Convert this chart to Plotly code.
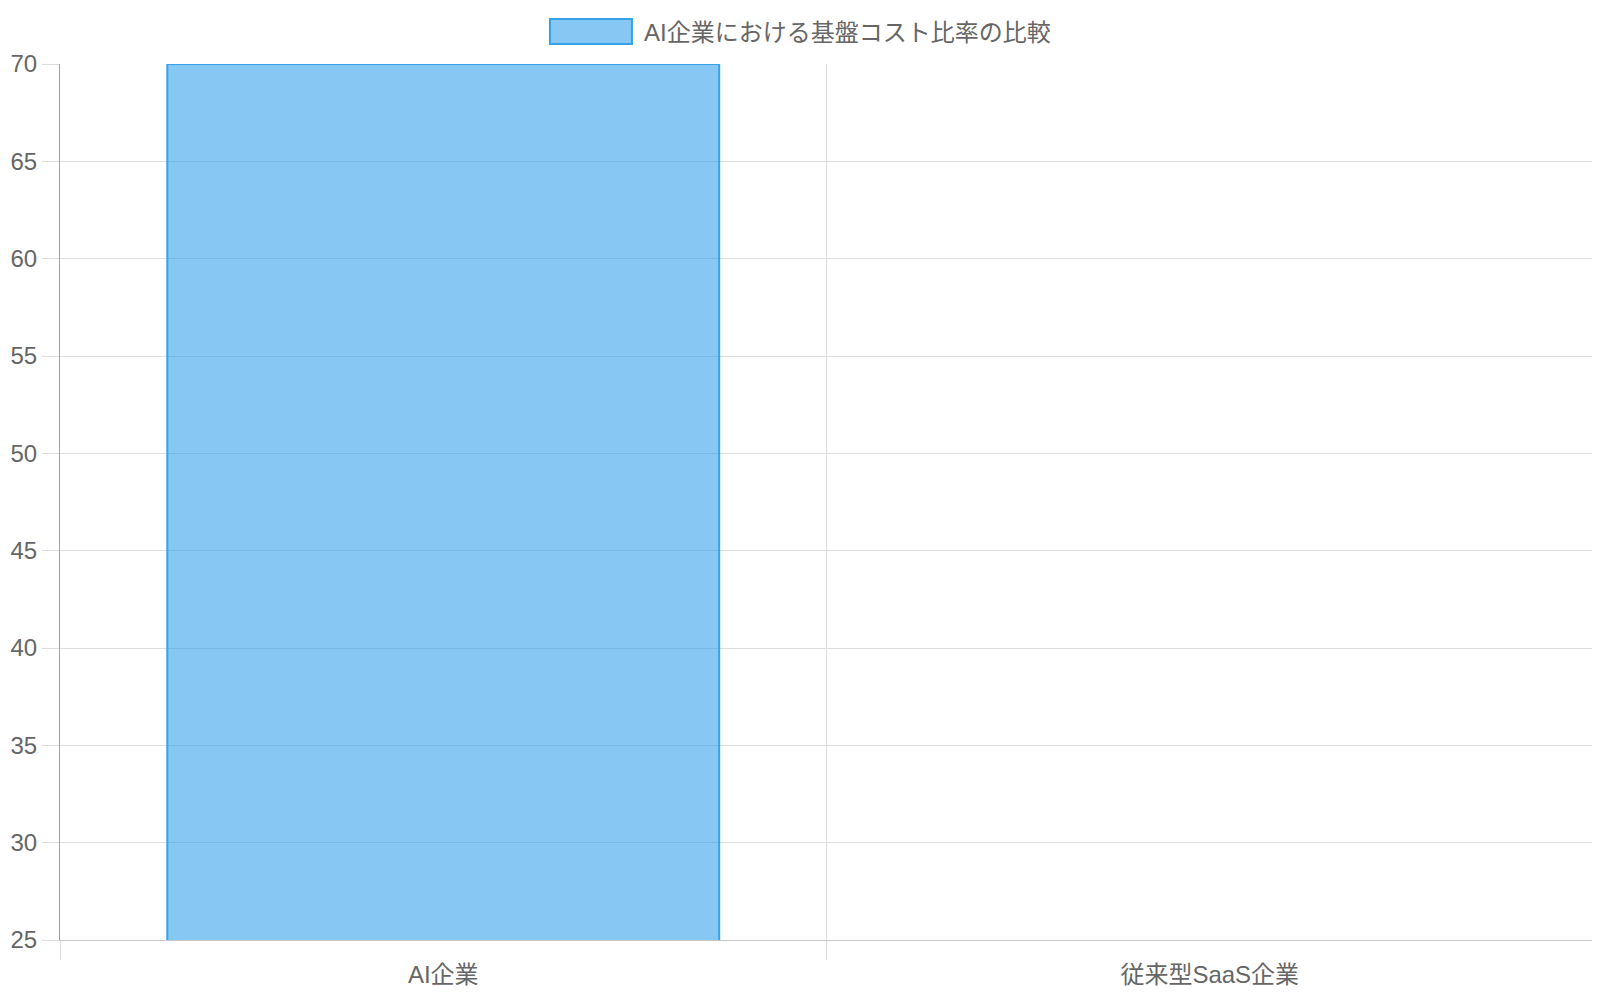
import plotly.graph_objects as go

# data
categories = ["AI企業", "従来型SaaS企業"]
cost_ratio = [70, 25]
series_name = "AI企業における基盤コスト比率の比較"
y_ticks = [25, 30, 35, 40, 45, 50, 55, 60, 65, 70]

font = "Liberation Sans, Arial, Noto Sans CJK JP, sans-serif"
grey = "#666666"
fill = "rgba(54,162,235,0.6)"
edge = "rgb(54,162,235)"
grid = "#dddddd"

fig = go.Figure()
fig.add_trace(go.Bar(
    x=categories, y=cost_ratio, name=series_name,
    width=0.72, showlegend=False,
    marker=dict(color=fill, line=dict(color=edge, width=[2, 0])),
))
# helper trace so the category-boundary grid axis gets drawn
fig.add_trace(go.Scatter(x=[-0.5, 1.5], y=[25, 25], xaxis="x2", mode="markers",
                         marker=dict(opacity=0), showlegend=False, hoverinfo="skip"))

# chart.js style legend: wide swatch + label above the plot
fig.add_shape(type="rect", xref="paper", yref="paper",
              x0=0.3196, x1=0.3731, y0=1.0228, y1=1.0514,
              fillcolor=fill, line=dict(color=edge, width=2))
fig.add_annotation(text=series_name, xref="paper", yref="paper",
                   x=0.3795, y=1.0365, xanchor="left", yanchor="middle",
                   showarrow=False, font=dict(size=24, color=grey))

# page body has an 8px margin, so the figure is a bit smaller than the window
fig.update_layout(
    width=1592, height=992,
    paper_bgcolor="white", plot_bgcolor="white",
    margin=dict(l=52, r=7, t=56, b=60),
    font=dict(family=font, size=24, color=grey),
    showlegend=False,
    xaxis=dict(type="category", range=[-0.5, 1.5], showgrid=False, ticks="",
               showline=True, linecolor="#c8c8c8", linewidth=1, automargin=False,
               tickfont=dict(size=24, color=grey), ticklabelstandoff=13),
    xaxis2=dict(overlaying="x", range=[-0.5, 1.5], tickvals=[-0.5, 0.5, 1.5],
                showticklabels=False, showgrid=True, gridcolor=grid, gridwidth=1,
                ticks="outside", ticklen=19, tickcolor=grid, zeroline=False,
                automargin=False),
    yaxis=dict(range=[25, 70], tickvals=y_ticks, showgrid=True, gridcolor=grid,
               gridwidth=1, ticks="outside", ticklen=17, tickcolor=grid,
               showline=True, linecolor="#a0a0a0", linewidth=1, zeroline=False,
               automargin=False, tickfont=dict(size=24, color=grey), ticklabelstandoff=0),
)

fig.write_html("out.html")
